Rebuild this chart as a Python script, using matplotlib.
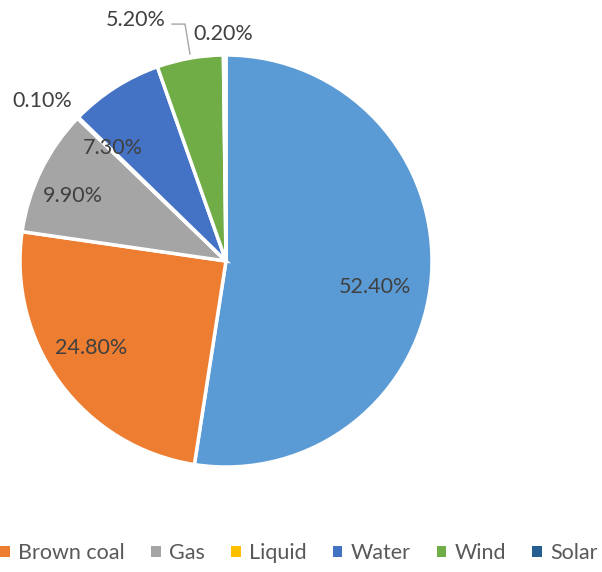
import matplotlib.pyplot as plt
from matplotlib.patches import Patch

# generation mix by source
sources = ["Hard coal", "Brown coal", "Gas", "Liquid", "Water", "Wind", "Solar"]
shares = [52.4, 24.8, 9.9, 0.1, 7.3, 5.2, 0.2]
colors = ["#5B9BD5", "#ED7D31", "#A5A5A5", "#FFC000", "#4472C4", "#70AD47", "#255E91"]

# where each percentage label sits (pie data units, radius = 1)
label_pos = [(0.723, -0.126), (-0.655, -0.422), (-0.743, 0.316), (-0.893, 0.777),
             (-0.549, 0.549), (-0.437, 1.170), (-0.015, 1.102)]

text_color = "#404040"
font = ["Lato", "DejaVu Sans"]

fig = plt.figure(figsize=(6.02, 5.72), dpi=100)
cx, cy, r = 226, 261, 206
ax = fig.add_axes([(cx - r) / 602, (572 - cy - r) / 572, 2 * r / 602, 2 * r / 572])

wedges, _ = ax.pie(shares, colors=colors, startangle=90, counterclock=False,
                   radius=1, wedgeprops=dict(edgecolor="white", linewidth=2.5))
ax.set_xlim(-1, 1)
ax.set_ylim(-1, 1)
ax.set_aspect("equal")

for val, (x, y) in zip(shares, label_pos):
    ax.text(x, y, f"{val:.2f}%", ha="center", va="center", fontsize=15.5,
            color=text_color, family=font, clip_on=False)

# leader line for the wind label
ax.plot([-0.262, -0.199, -0.175], [1.15, 1.15, 1.005], color="#A6A6A6",
        lw=1, clip_on=False)

handles = [Patch(facecolor=c, edgecolor="none") for c in colors[1:]]
leg = fig.legend(handles, sources[1:], loc="center left", bbox_to_anchor=(-0.032, 1 - 553 / 572),
                 ncol=6, frameon=False, handlelength=0.45, handleheight=0.45,
                 handletextpad=0.4, columnspacing=1.2,
                 prop=dict(family=font, size=15.5))
for t in leg.get_texts():
    t.set_color("#595959")

fig.savefig("out.png", dpi=100)
